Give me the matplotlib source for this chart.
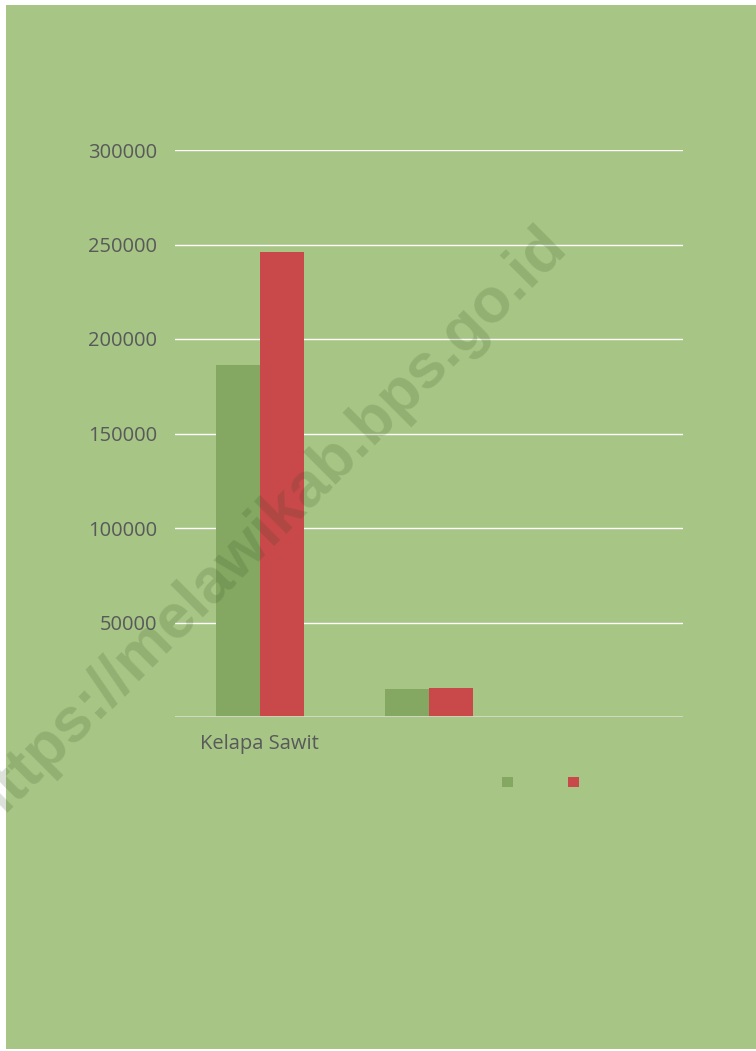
import matplotlib
matplotlib.use("Agg")
import matplotlib.pyplot as plt
from matplotlib.patches import Rectangle, Patch
import numpy as np

categories = ["Kelapa Sawit", "", ""]
series_names = ["", ""]
green_values = [186000, 15000, 0]
red_values = [246000, 15300, 0]
yticks = [50000, 100000, 150000, 200000, 250000, 300000]

BG = "#a7c584"
GREEN = "#84a862"
RED = "#c9484a"
TXT = "#58595b"

W, H = 756, 1051
fig = plt.figure(figsize=(W / 100, H / 100), dpi=100, facecolor="white")

# green page background with thin white margin
fig.patches.append(Rectangle((6 / W, 2 / H), (W - 6) / W, (H - 7) / H,
                             transform=fig.transFigure, facecolor=BG,
                             edgecolor="none", zorder=-10))

ax = fig.add_axes([175 / W, 1 - 717 / H, (683 - 175) / W, (717 - 150) / H])
ax.set_facecolor("none")

x = np.arange(len(categories))
bw = 0.26
ax.bar(x - bw / 2, green_values, width=bw, color=GREEN, linewidth=0, zorder=2,
       label=series_names[0])
ax.bar(x + bw / 2, red_values, width=bw, color=RED, linewidth=0, zorder=2,
       label=series_names[1])

ax.set_xlim(-0.5, 2.5)
ax.set_ylim(0, 300000)
ax.set_yticks(yticks)
ax.set_yticklabels([str(v) for v in yticks])
ax.set_xticks(x)
ax.set_xticklabels(categories)

for v in yticks:
    ax.axhline(v, color="white", linewidth=1.0, zorder=1)
ax.axhline(0, color="#d6dcc8", linewidth=2.0, zorder=3)

for s in ax.spines.values():
    s.set_visible(False)
ax.tick_params(axis="both", length=0, colors=TXT)
ax.tick_params(axis="y", pad=13)
ax.tick_params(axis="x", pad=12)
for lab in ax.get_yticklabels() + ax.get_xticklabels():
    lab.set_fontfamily("Open Sans")
    lab.set_fontsize(14.5)
    lab.set_color(TXT)

# legend (markers only)
handles = [Patch(facecolor=GREEN, edgecolor="none"), Patch(facecolor=RED, edgecolor="none")]
fig.legend(handles, series_names, loc="center", bbox_to_anchor=(540.5 / W, 1 - 783 / H),
           ncol=2, frameon=False, fontsize=10, handlelength=0.8, handleheight=0.7,
           handletextpad=0, columnspacing=3.96, borderpad=0, borderaxespad=0)

# watermark
fig.text(568 / W, 1 - 248 / H, "https://melawikab.bps.go.id", rotation=45,
         rotation_mode="anchor", ha="right", va="baseline",
         fontsize=45, fontweight="bold", family="Liberation Sans",
         color="#2f4a1e", alpha=0.17, zorder=10)

fig.savefig("out.png", dpi=100, facecolor="white")
